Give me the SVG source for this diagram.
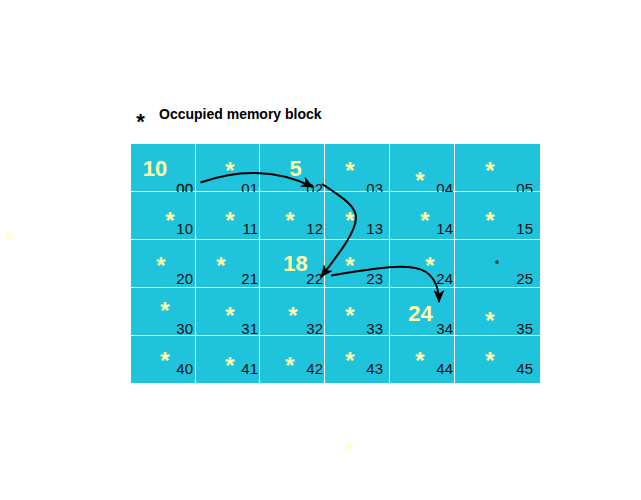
<svg xmlns="http://www.w3.org/2000/svg" width="641" height="500" viewBox="0 0 641 500">
<defs>
<style>
.cell{fill:#1fc4dc}
.lbl{font-family:"Liberation Sans",Arial,sans-serif;font-size:15px;fill:#111;text-anchor:end}
.st{font-family:"Liberation Sans",Arial,sans-serif;font-size:24px;font-weight:bold;fill:#ffffaa;text-anchor:middle}
.big{font-family:"Liberation Sans",Arial,sans-serif;font-size:22px;font-weight:bold;fill:#ffffaa;text-anchor:middle}
.con{fill:none;stroke:#000;stroke-width:2}
</style>
<marker id="ah" viewBox="0 0 13 11" refX="12" refY="5.5" markerWidth="13" markerHeight="11" markerUnits="userSpaceOnUse" orient="auto">
<path d="M0,0 L13,5.5 L0,11 L3.5,5.5 Z" fill="#000"/>
</marker>
</defs>
<rect width="641" height="500" fill="#fff"/>
<g id="legend">
<text x="140.5" y="128.5" class="st" style="fill:#000;font-size:22px">*</text>
<text x="159" y="119" style="font-family:'Liberation Sans',Arial,sans-serif;font-size:14px;font-weight:bold;fill:#000">Occupied memory block</text>
</g>
<g id="stray">
<text x="10" y="249" class="st" style="opacity:0.55">*</text>
<text x="350" y="459" class="st" style="opacity:0.55">*</text>
</g>
<g id="c00"><rect class="cell" x="131" y="144" width="64" height="47"/><text class="big" x="155" y="176">10</text><text class="lbl" x="193" y="194" style="stroke:#111;stroke-width:0.3">00</text></g>
<g id="c01"><rect class="cell" x="196" y="144" width="63" height="47"/><text class="st" x="230" y="179">*</text><text class="lbl" x="258" y="194">01</text></g>
<g id="c02"><rect class="cell" x="260" y="144" width="64" height="47"/><text class="big" x="295.5" y="176">5</text><text class="lbl" x="323" y="194">02</text></g>
<g id="c03"><rect class="cell" x="325" y="144" width="64" height="47"/><text class="st" x="350" y="179">*</text><text class="lbl" x="383" y="194">03</text></g>
<g id="c04"><rect class="cell" x="390" y="144" width="64" height="47"/><text class="st" x="420" y="189">*</text><text class="lbl" x="453" y="194">04</text></g>
<g id="c05"><rect class="cell" x="455" y="144" width="85" height="47"/><text class="st" x="490" y="179">*</text><text class="lbl" x="533" y="194">05</text></g>

<g id="c10"><rect class="cell" x="131" y="192" width="64" height="47"/><text class="st" x="170" y="229">*</text><text class="lbl" x="193" y="234">10</text></g>
<g id="c11"><rect class="cell" x="196" y="192" width="63" height="47"/><text class="st" x="230" y="229">*</text><text class="lbl" x="258" y="234">11</text></g>
<g id="c12"><rect class="cell" x="260" y="192" width="64" height="47"/><text class="st" x="290" y="229">*</text><text class="lbl" x="323" y="234">12</text></g>
<g id="c13"><rect class="cell" x="325" y="192" width="64" height="47"/><text class="st" x="350" y="229">*</text><text class="lbl" x="383" y="234">13</text></g>
<g id="c14"><rect class="cell" x="390" y="192" width="64" height="47"/><text class="st" x="425" y="229">*</text><text class="lbl" x="453" y="234">14</text></g>
<g id="c15"><rect class="cell" x="455" y="192" width="85" height="47"/><text class="st" x="490" y="229">*</text><text class="lbl" x="533" y="234">15</text></g>

<g id="c20"><rect class="cell" x="131" y="240" width="64" height="47"/><text class="st" x="161" y="274">*</text><text class="lbl" x="193" y="284">20</text></g>
<g id="c21"><rect class="cell" x="196" y="240" width="63" height="47"/><text class="st" x="221" y="274">*</text><text class="lbl" x="258" y="284">21</text></g>
<g id="c22"><rect class="cell" x="260" y="240" width="64" height="47"/><text class="big" x="295.5" y="271">18</text><text class="lbl" x="323" y="284">22</text></g>
<g id="c23"><rect class="cell" x="325" y="240" width="64" height="47"/><text class="st" x="350" y="274">*</text><text class="lbl" x="383" y="284">23</text></g>
<g id="c24"><rect class="cell" x="390" y="240" width="64" height="47"/><text class="st" x="430" y="274">*</text><text class="lbl" x="453" y="284">24</text></g>
<g id="c25"><rect class="cell" x="455" y="240" width="85" height="47"/><text class="st" x="497" y="268" style="fill:#222;font-size:10px">*</text><text class="lbl" x="533" y="284">25</text></g>

<g id="c30"><rect class="cell" x="131" y="288" width="64" height="47"/><text class="st" x="165" y="319">*</text><text class="lbl" x="193" y="334">30</text></g>
<g id="c31"><rect class="cell" x="196" y="288" width="63" height="47"/><text class="st" x="230" y="324">*</text><text class="lbl" x="258" y="334">31</text></g>
<g id="c32"><rect class="cell" x="260" y="288" width="64" height="47"/><text class="st" x="293" y="324">*</text><text class="lbl" x="323" y="334">32</text></g>
<g id="c33"><rect class="cell" x="325" y="288" width="64" height="47"/><text class="st" x="350" y="324">*</text><text class="lbl" x="383" y="334">33</text></g>
<g id="c34"><rect class="cell" x="390" y="288" width="64" height="47"/><text class="big" x="420.5" y="321">24</text><text class="lbl" x="453" y="334">34</text></g>
<g id="c35"><rect class="cell" x="455" y="288" width="85" height="47"/><text class="st" x="490" y="329">*</text><text class="lbl" x="533" y="334">35</text></g>

<g id="c40"><rect class="cell" x="131" y="336" width="64" height="47"/><text class="st" x="165" y="369">*</text><text class="lbl" x="193" y="374">40</text></g>
<g id="c41"><rect class="cell" x="196" y="336" width="63" height="47"/><text class="st" x="230" y="374">*</text><text class="lbl" x="258" y="374">41</text></g>
<g id="c42"><rect class="cell" x="260" y="336" width="64" height="47"/><text class="st" x="290" y="374">*</text><text class="lbl" x="323" y="374">42</text></g>
<g id="c43"><rect class="cell" x="325" y="336" width="64" height="47"/><text class="st" x="350" y="369">*</text><text class="lbl" x="383" y="374">43</text></g>
<g id="c44"><rect class="cell" x="390" y="336" width="64" height="47"/><text class="st" x="420" y="369">*</text><text class="lbl" x="453" y="374">44</text></g>
<g id="c45"><rect class="cell" x="455" y="336" width="85" height="47"/><text class="st" x="490" y="369">*</text><text class="lbl" x="533" y="374">45</text></g>

<g id="connectors">
<path class="con" d="M200.5,182.5 C235,170 275,168 313,187" marker-end="url(#ah)"/>
<path class="con" d="M322,184 C340,196 356,205 356,218 C356,232 338,255 321,277" marker-end="url(#ah)"/>
<path class="con" d="M331,275.5 C375,268 410,262 426,272 C436,279 439,290 439,302" marker-end="url(#ah)"/>
</g>
</svg>
